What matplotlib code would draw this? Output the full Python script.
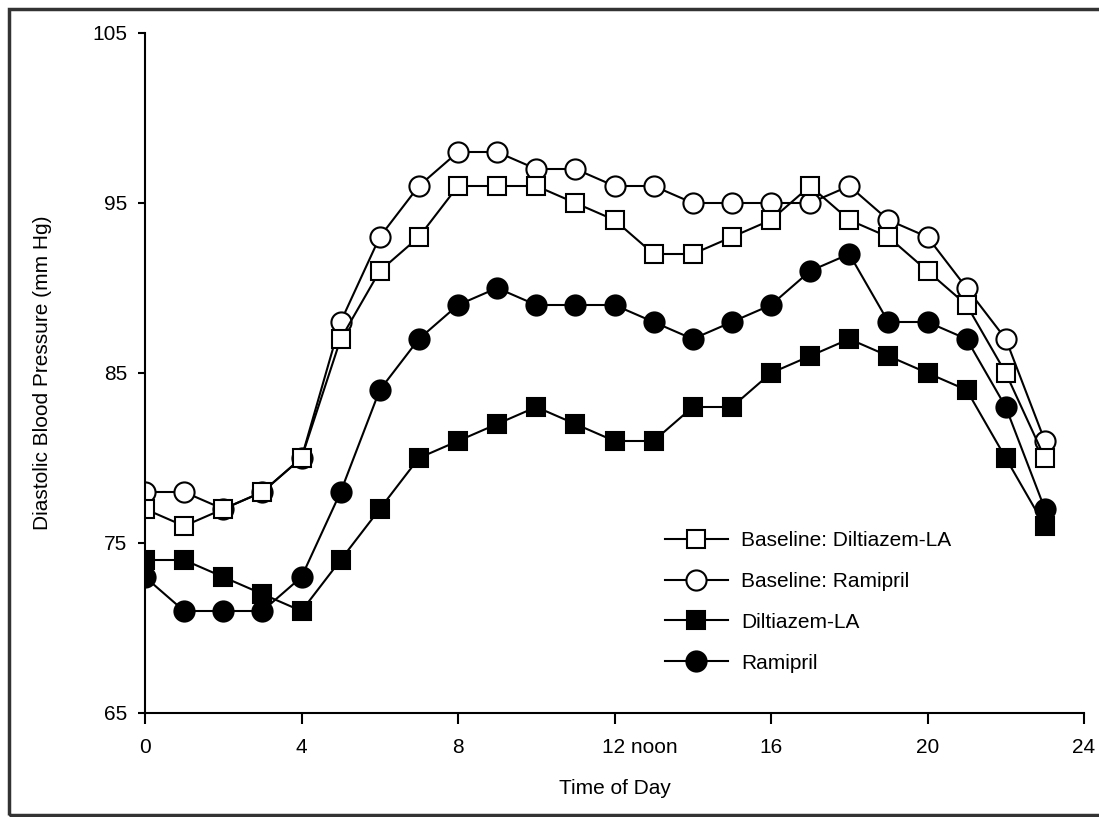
import matplotlib
matplotlib.use("Agg")
import matplotlib.pyplot as plt
from matplotlib.patches import Rectangle
import matplotlib.transforms as mtransforms

plt.rcParams['font.family'] = ['Liberation Sans', 'DejaVu Sans']

hours = list(range(24))
baseline_diltiazem = [77, 76, 77, 78, 80, 87, 91, 93, 96, 96, 96, 95, 94, 92, 92, 93, 94, 96, 94, 93, 91, 89, 85, 80]
baseline_ramipril = [78, 78, 77, 78, 80, 88, 93, 96, 98, 98, 97, 97, 96, 96, 95, 95, 95, 95, 96, 94, 93, 90, 87, 81]
diltiazem = [74, 74, 73, 72, 71, 74, 77, 80, 81, 82, 83, 82, 81, 81, 83, 83, 85, 86, 87, 86, 85, 84, 80, 76]
ramipril = [73, 71, 71, 71, 73, 78, 84, 87, 89, 90, 89, 89, 89, 88, 87, 88, 89, 91, 92, 88, 88, 87, 83, 77]

xticks = [0, 4, 8, 12, 16, 20, 24]
xticklabels = ['0', '4', '8', '12 noon', '16', '20', '24']
yticks = [65, 75, 85, 95, 105]

FS = 15

fig = plt.figure(figsize=(10.99, 8.17), dpi=100)
ax = fig.add_axes([145/1099, 1 - 713/817, (1084 - 145)/1099, (713 - 33)/817])

lw = 1.5
common = dict(color='black', lw=lw, markeredgewidth=1.5, markeredgecolor='black')
l2, = ax.plot(hours, baseline_ramipril, marker='o', markersize=14.5, markerfacecolor='white',
              label='Baseline: Ramipril', zorder=3, **common)
l1, = ax.plot(hours, baseline_diltiazem, marker='s', markersize=13, markerfacecolor='white',
              label='Baseline: Diltiazem-LA', zorder=4, **common)
l4, = ax.plot(hours, ramipril, marker='o', markersize=14.5, markerfacecolor='black',
              label='Ramipril', zorder=3, **common)
l3, = ax.plot(hours, diltiazem, marker='s', markersize=13, markerfacecolor='black',
              label='Diltiazem-LA', zorder=4, **common)

ax.set_xlim(0, 24)
ax.set_ylim(65, 105)
ax.set_xticks(xticks)
ax.set_xticklabels(xticklabels)
ax.set_yticks(yticks)
for s in ['top', 'right']:
    ax.spines[s].set_visible(False)
for s in ['left', 'bottom']:
    ax.spines[s].set_linewidth(1.5)
ax.tick_params(axis='x', direction='out', length=8, width=1.5, labelsize=FS, pad=10)
ax.tick_params(axis='y', direction='out', length=5, width=1.5, labelsize=FS, pad=8)
ax.set_xlabel('Time of Day', fontsize=FS, labelpad=16)
ax.set_ylabel('Diastolic Blood Pressure (mm Hg)', fontsize=FS, labelpad=29)
ax.spines['left'].set_zorder(5)

# shift "12 noon" so that "12" is centered on the tick
lab = ax.get_xticklabels()[3]
lab.set_horizontalalignment('left')
lab.set_transform(lab.get_transform() + mtransforms.ScaledTranslation(-13/100, 0, fig.dpi_scale_trans))

leg = ax.legend(handles=[l1, l2, l3, l4], loc='upper left',
                bbox_to_anchor=((665 - 145)/939, (713 - 531)/680),
                frameon=False, fontsize=FS, handlelength=3.0, handletextpad=0.65,
                labelspacing=1.05, borderaxespad=0, borderpad=0)

fig.patches.append(Rectangle((9/1099, 2/817), 1.2, 1 - 9/817 - 2/817,
                             transform=fig.transFigure, fill=False,
                             edgecolor='#333333', lw=2.5, zorder=0))

fig.savefig('out.png', dpi=100)
